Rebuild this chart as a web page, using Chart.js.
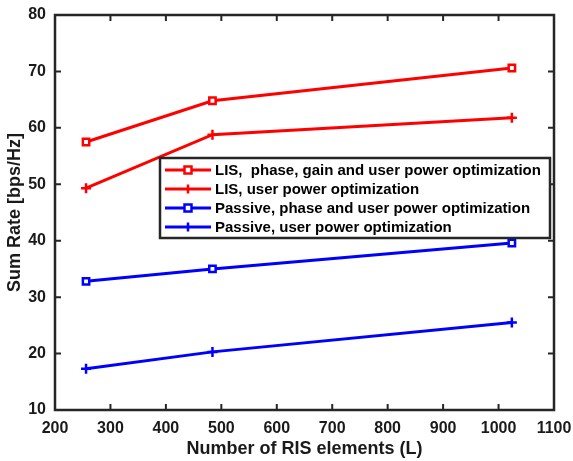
<!DOCTYPE html>
<html>
<head>
<meta charset="utf-8">
<script src="https://cdn.jsdelivr.net/npm/chart.js@4"></script>
<style>
  html, body { margin: 0; padding: 0; background: #fff; }
  #wrap { width: 573px; height: 461px; }
</style>
</head>
<body>
<div id="wrap"><canvas id="chart" width="573" height="461"></canvas></div>
<script>
const elements = [256, 484, 1024]
const lisFull = [57.5, 64.8, 70.6]
const lisPower = [49.3, 58.8, 61.8]
const passivePhase = [32.8, 35.0, 39.6]
const passivePower = [17.3, 20.3, 25.5]
const seriesLabels = [
  "LIS,  phase, gain and user power optimization",
  "LIS, user power optimization",
  "Passive, phase and user power optimization",
  "Passive, user power optimization",
]
const xTicks = [200, 300, 400, 500, 600, 700, 800, 900, 1000, 1100]
const yTicks = [10, 20, 30, 40, 50, 60, 70, 80]

const FONT = "'Liberation Sans', Arial, sans-serif"
const AXIS = "#262626"

function makeSet(label, values, color, style) {
  return {
    label: label,
    data: values.map((v, i) => ({ x: elements[i], y: v })),
    borderColor: color,
    backgroundColor: style === "rect" ? "#fff" : color,
    pointStyle: style,
    pointRadius: style === "rect" ? 4.5 : 5,
    pointBorderWidth: 2.5,
    borderWidth: 3,
    pointBorderColor: color,
    tension: 0,
  }
}

const frame = {
  id: "frame",
  afterDraw(chart) {
    const ctx = chart.ctx
    const a = chart.chartArea
    const xs = chart.scales.x
    const ys = chart.scales.y
    ctx.save()
    ctx.strokeStyle = AXIS
    ctx.lineWidth = 2.5
    ctx.strokeRect(a.left, a.top, a.right - a.left, a.bottom - a.top)
    ctx.lineWidth = 2
    ctx.beginPath()
    xTicks.forEach((t) => {
      const px = xs.getPixelForValue(t)
      ctx.moveTo(px, a.bottom); ctx.lineTo(px, a.bottom - 6)
      ctx.moveTo(px, a.top); ctx.lineTo(px, a.top + 6)
    })
    yTicks.forEach((t) => {
      const py = ys.getPixelForValue(t)
      ctx.moveTo(a.left, py); ctx.lineTo(a.left + 6, py)
      ctx.moveTo(a.right, py); ctx.lineTo(a.right - 6, py)
    })
    ctx.stroke()

    // legend box inside the plot
    const bx = 160, by = 158, bw = 390, bh = 80
    ctx.fillStyle = "#fff"
    ctx.fillRect(bx, by, bw, bh)
    ctx.lineWidth = 2.5
    ctx.strokeRect(bx, by, bw, bh)
    ctx.font = "bold 15px " + FONT
    ctx.textBaseline = "middle"
    chart.data.datasets.forEach((ds, i) => {
      const y = by + 12 + i * 19
      ctx.strokeStyle = ds.borderColor
      ctx.lineWidth = 3
      ctx.beginPath()
      ctx.moveTo(bx + 5, y); ctx.lineTo(bx + 51, y)
      ctx.stroke()
      ctx.lineWidth = 2.5
      const cx = bx + 28
      if (ds.pointStyle === "rect") {
        ctx.fillStyle = "#fff"
        ctx.fillRect(cx - 3.5, y - 3.5, 7, 7)
        ctx.strokeRect(cx - 3.5, y - 3.5, 7, 7)
      } else {
        ctx.beginPath()
        ctx.moveTo(cx, y - 4.5); ctx.lineTo(cx, y + 4.5)
        ctx.stroke()
      }
      ctx.fillStyle = "#000"
      ctx.fillText(ds.label, bx + 55, y + 1)
    })
    ctx.restore()
  },
}

new Chart(document.getElementById("chart"), {
  type: "line",
  data: {
    datasets: [
      makeSet(seriesLabels[0], lisFull, "#ff0000", "rect"),
      makeSet(seriesLabels[1], lisPower, "#ff0000", "cross"),
      makeSet(seriesLabels[2], passivePhase, "#0000ff", "rect"),
      makeSet(seriesLabels[3], passivePower, "#0000ff", "cross"),
    ],
  },
  options: {
    responsive: false,
    animation: false,
    layout: { padding: { left: 0, top: 15, right: 19, bottom: 0 } },
    plugins: { legend: { display: false }, tooltip: { enabled: false } },
    scales: {
      x: {
        type: "linear",
        min: 200,
        max: 1100,
        afterBuildTicks: (s) => { s.ticks = xTicks.map((v) => ({ value: v })) },
        afterFit: (s) => { s.height = 51; s.paddingLeft = 0; s.paddingRight = 0 },
        grid: { display: false, drawTicks: false },
        border: { display: false },
        ticks: { color: "#1a1a1a", font: { family: FONT, size: 16, weight: "bold" }, padding: 9, maxRotation: 0, callback: (v) => String(v) },
        title: { display: true, text: "Number of RIS elements (L)", color: "#1a1a1a", font: { family: FONT, size: 18, weight: "bold" }, padding: { top: 0, bottom: 1 } },
      },
      y: {
        min: 10,
        max: 80,
        afterBuildTicks: (s) => { s.ticks = yTicks.map((v) => ({ value: v })) },
        afterFit: (s) => { s.width = 55; s.paddingTop = 0; s.paddingBottom = 0 },
        grid: { display: false, drawTicks: false },
        border: { display: false },
        ticks: { color: "#1a1a1a", font: { family: FONT, size: 16, weight: "bold" }, padding: 9, callback: (v) => String(v) },
        title: { display: true, text: "Sum Rate [bps/Hz]", color: "#1a1a1a", font: { family: FONT, size: 18, weight: "bold" }, padding: { top: 4, bottom: 0 } },
      },
    },
  },
  plugins: [frame],
})
</script>
</body>
</html>
